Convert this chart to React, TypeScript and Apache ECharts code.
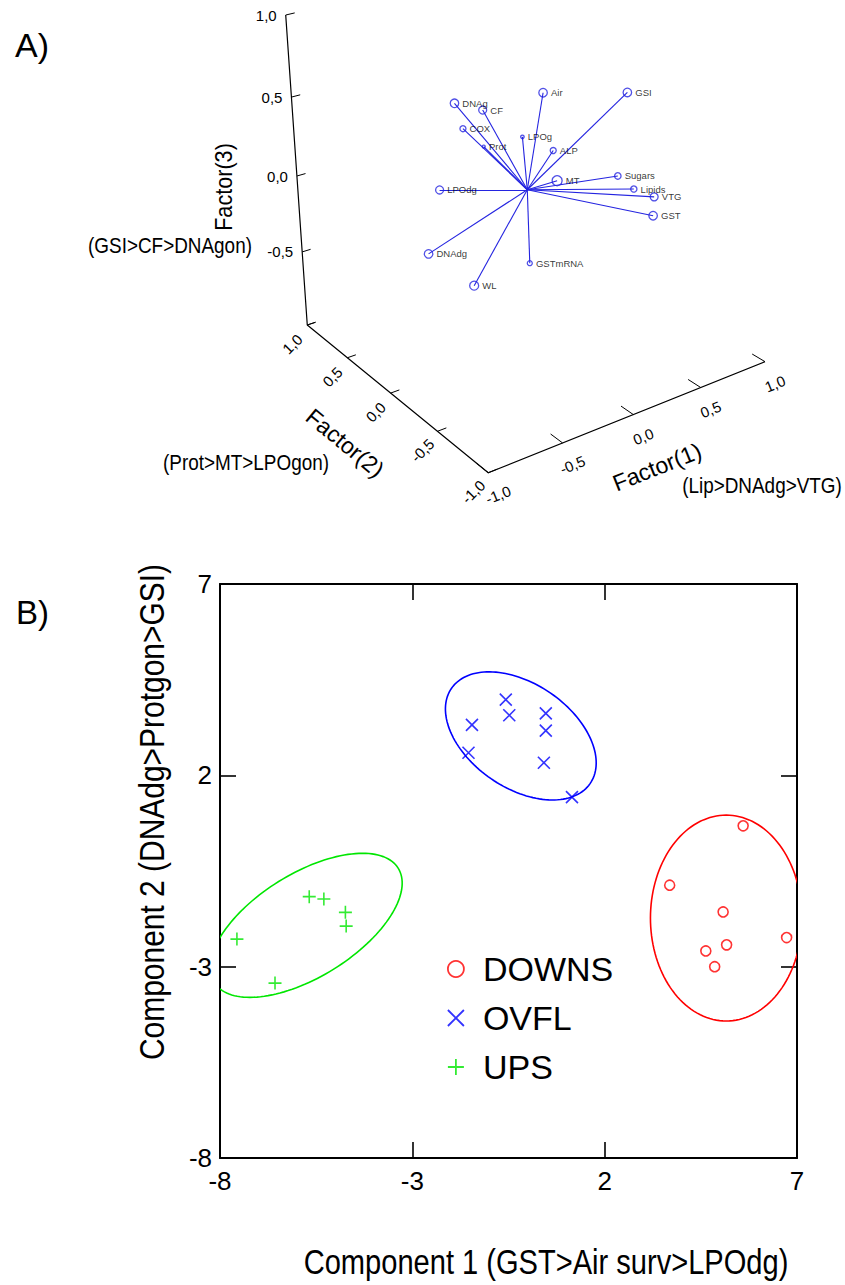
import React, { useEffect, useRef } from "react";
import * as echarts from "echarts";

const FONT = "'Liberation Sans', Arial, Helvetica, sans-serif";

// ---------------- Panel A : 3-D factor loadings ----------------
const variables = ["DNAg", "CF", "Air", "GSI", "COX", "Prot", "LPOg", "ALP", "MT", "Sugars", "Lipids", "VTG", "GST", "LPOdg", "DNAdg", "GSTmRNA", "WL"];
const factor1 = [-0.69, -0.44, -0.1, 0.5, -0.31, 0.24, 0.47, 0.34, -0.23, 0.76, 0.93, 0.8, 0.71, -0.74, -0.89, 0.3, -0.66];
const factor2 = [-0.3, -0.2, -0.3, -0.3, 0.2, 0.8, 0.7, 0.2, -0.6, 0.1, 0.15, -0.2, -0.3, -0.2, -0.3, 0.4, -0.4];
const factor3 = [0.79, 0.66, 0.71, 0.57, 0.39, -0.06, -0.02, 0.09, 0.33, -0.15, -0.3, -0.19, -0.25, 0.27, -0.03, -0.72, -0.25];
const cubeTicks = [-1, -0.5, 0, 0.5, 1];
const factorTitles = ["Factor(1)", "Factor(2)", "Factor(3)"];
const factorSubtitles = ["(Lip>DNAdg>VTG)", "(Prot>MT>LPOgon)", "(GSI>CF>DNAgon)"];

// ---------------- Panel B : component scores ----------------
const groups = ["DOWNS", "OVFL", "UPS"];
const downsX = [5.6, 3.69, 5.08, 5.17, 4.63, 4.86, 6.73];
const downsY = [0.68, -0.87, -1.57, -2.43, -2.59, -3.0, -2.24];
const ovflX = [-1.45, -0.57, -0.48, 0.47, 0.47, -1.54, 0.42, 1.15];
const ovflY = [3.32, 3.98, 3.57, 3.62, 3.17, 2.59, 2.33, 1.43];
const upsX = [-7.56, -5.68, -5.3, -4.74, -4.72, -6.57];
const upsY = [-2.28, -1.17, -1.23, -1.58, -1.94, -3.43];
const ellipseCx = [5.16, -0.18, -5.76];
const ellipseCy = [-1.73, 3.03, -1.92];
const ellipseA = [1.97, 2.19, 2.82];
const ellipseB = [2.69, 1.36, 1.35];
const ellipseAngle = [0, -34.7, 32];
const xTitle = "Component 1 (GST>Air surv>LPOdg)";
const yTitle = "Component 2 (DNAdg>Protgon>GSI)";

const COLORS = ["#ff0000", "#0000ff", "#00e600"];
const BLUE_A = "#2424e0";

// perspective camera of the 3-D box (layout of panel A)
const CAM = {
  o: [527.3, 189.75],
  e1: [162.05, -34.15],
  e2: [-58.9, -42.3],
  e3: [-22.95, -166.7],
  w: [0.0462, 0.078, -0.0399],
};
const proj = (f1: number, f2: number, f3: number): [number, number] => {
  const d = 1 + CAM.w[0] * f1 + CAM.w[1] * f2 + CAM.w[2] * f3;
  return [
    (CAM.o[0] + CAM.e1[0] * f1 + CAM.e2[0] * f2 + CAM.e3[0] * f3) / d,
    (CAM.o[1] + CAM.e1[1] * f1 + CAM.e2[1] * f2 + CAM.e3[1] * f3) / d,
  ];
};
const tickText = (v: number) => v.toFixed(1).replace(".", ",");

const txt = (text: string, x: number, y: number, size: number, opts: any = {}) => ({
  type: "text",
  x,
  y,
  rotation: opts.rotation || 0,
  scaleX: opts.scaleX || 1,
  silent: true,
  z: 10,
  style: {
    text,
    font: `${size}px ${FONT}`,
    fill: "#000",
    textAlign: opts.align || "center",
    align: opts.align || "center",
    textVerticalAlign: "middle",
    verticalAlign: "middle",
  },
});

const X_PATH = "path://M0,0L10,10M10,0L0,10";
const PLUS_PATH = "path://M5,0L5,10M0,5L10,5";

export default function App() {
  const ref = useRef<HTMLDivElement>(null);
  useEffect(() => {
    if (!ref.current) return;
    const chart = echarts.init(ref.current, undefined, { renderer: "svg" });

    const origin = proj(0, 0, 0);
    const loadingLines = variables.map((n, i) => ({ coords: [origin, proj(factor1[i], factor2[i], factor3[i])] }));
    const loadingPts = variables.map((n, i) => ({
      name: n,
      value: proj(factor1[i], factor2[i], factor3[i]),
      symbolSize: 7 - 5 * factor2[i],
    }));
    const frame = [proj(-1, 1, 1), proj(-1, 1, -1), proj(-1, -1, -1), proj(1, -1, -1)];
    const tickSegs: any[] = [];
    cubeTicks.forEach((v) => {
      tickSegs.push({ coords: [proj(-1, 1, v), proj(-0.94, 1, v)] });
      tickSegs.push({ coords: [proj(-1, v, -1), proj(-0.94, v, -1)] });
      tickSegs.push({ coords: [proj(v, -1, -1), proj(v, -0.89, -1)] });
    });

    const axisCommon = {
      axisLine: { show: true, onZero: false, lineStyle: { color: "#000", width: 2 } },
      axisTick: { show: true, inside: true, length: 16, lineStyle: { color: "#000", width: 1.6 } },
      splitLine: { show: false },
    };
    const labelStyle = { color: "#000", fontSize: 26, fontFamily: FONT, showMinLabel: true, showMaxLabel: true };

    const scoreSeries = [
      { name: "DOWNS", xs: downsX, ys: downsY, symbol: "circle", size: 10 },
      { name: "OVFL", xs: ovflX, ys: ovflY, symbol: X_PATH, size: 12 },
      { name: "UPS", xs: upsX, ys: upsY, symbol: PLUS_PATH, size: 13 },
    ].map((s, gi) => ({
      type: "scatter",
      name: s.name,
      xAxisIndex: 0,
      yAxisIndex: 0,
      symbol: s.symbol,
      symbolSize: s.size,
      symbolKeepAspect: true,
      silent: true,
      z: 5,
      data: s.xs.map((x, i) => [x, s.ys[i]]),
      itemStyle: { color: "rgba(255,255,255,0)", borderColor: COLORS[gi], borderWidth: 1.6 },
    }));

    chart.setOption({
      animation: false,
      backgroundColor: "#fff",
      grid: [
        { left: 220, top: 584, width: 577, height: 574 },
        { left: 0, top: 0, width: 845, height: 500 },
      ],
      xAxis: [
        { gridIndex: 0, type: "value", min: -8, max: 7, interval: 5, position: "bottom", ...axisCommon, axisLabel: { ...labelStyle, margin: 10 } },
        { gridIndex: 1, type: "value", min: 0, max: 845, show: false },
        { gridIndex: 0, type: "value", min: -8, max: 7, interval: 5, position: "top", ...axisCommon, axisLabel: { show: false } },
      ],
      yAxis: [
        { gridIndex: 0, type: "value", min: -8, max: 7, interval: 5, position: "left", ...axisCommon, axisLabel: { ...labelStyle, margin: 8 } },
        { gridIndex: 1, type: "value", min: 0, max: 500, inverse: true, show: false },
        { gridIndex: 0, type: "value", min: -8, max: 7, interval: 5, position: "right", ...axisCommon, axisLabel: { show: false } },
      ],
      legend: {
        show: true,
        orient: "vertical",
        left: 447,
        top: 952,
        padding: 0,
        itemGap: 15,
        itemWidth: 44,
        itemHeight: 16,
        symbolKeepAspect: true,
        selectedMode: false,
        data: groups,
        itemStyle: { borderWidth: 1.8 },
        textStyle: { fontSize: 34, color: "#000", fontFamily: FONT },
      },
      series: [
        {
          type: "custom",
          name: "ellipses",
          xAxisIndex: 0,
          yAxisIndex: 0,
          clip: true,
          silent: true,
          z: 3,
          data: groups.map((g, i) => [ellipseCx[i], ellipseCy[i], ellipseA[i], ellipseB[i], ellipseAngle[i]]),
          encode: { x: 0, y: 1 },
          renderItem: (params: any, api: any) => {
            const cx = api.value(0), cy = api.value(1), a = api.value(2), b = api.value(3);
            const th = (api.value(4) * Math.PI) / 180;
            const pts: number[][] = [];
            for (let k = 0; k <= 144; k++) {
              const t = (k / 144) * Math.PI * 2;
              const dx = a * Math.cos(t), dy = b * Math.sin(t);
              pts.push(api.coord([cx + dx * Math.cos(th) - dy * Math.sin(th), cy + dx * Math.sin(th) + dy * Math.cos(th)]));
            }
            return {
              type: "polyline",
              shape: { points: pts },
              style: { stroke: COLORS[params.dataIndex], fill: "none", lineWidth: 1.6 },
            };
          },
        },
        ...scoreSeries,
        {
          type: "line",
          xAxisIndex: 1,
          yAxisIndex: 1,
          data: frame,
          symbol: "none",
          silent: true,
          lineStyle: { color: "#000", width: 1.2 },
        },
        {
          type: "lines",
          coordinateSystem: "cartesian2d",
          xAxisIndex: 1,
          yAxisIndex: 1,
          silent: true,
          data: tickSegs,
          lineStyle: { color: "#000", width: 1, opacity: 1 },
        },
        {
          type: "lines",
          coordinateSystem: "cartesian2d",
          xAxisIndex: 1,
          yAxisIndex: 1,
          silent: true,
          data: loadingLines,
          lineStyle: { color: BLUE_A, width: 1.1, opacity: 1 },
        },
        {
          type: "scatter",
          xAxisIndex: 1,
          yAxisIndex: 1,
          silent: true,
          symbol: "circle",
          data: loadingPts,
          itemStyle: { color: "rgba(255,255,255,0)", borderColor: BLUE_A, borderWidth: 1.3 },
          label: { show: true, formatter: "{b}", position: "right", distance: 3, fontSize: 9.5, color: "#000", fontFamily: FONT },
        },
      ],
    });

    const px = (p: [number, number]) => chart.convertToPixel({ gridIndex: 1 }, p) as number[];
    const g: any[] = [];
    cubeTicks.filter((v) => v > -1).forEach((v) => {
      const [x, y] = px(proj(-1, 1, v));
      g.push(txt(tickText(v), x - 9, y, 15, { align: "right" }));
    });
    cubeTicks.forEach((v) => {
      const [x, y] = px(proj(-1, v, -1));
      g.push(txt(tickText(v), x - 15, y + 19, 15, { rotation: Math.PI / 4 }));
    });
    cubeTicks.forEach((v) => {
      const [x, y] = px(proj(v, -1, -1));
      g.push(txt(tickText(v), x + 10, y + 22, 15, { rotation: (22 * Math.PI) / 180 }));
    });
    g.push(txt("A)", 15, 45, 34, { align: "left" }));
    g.push(txt("B)", 16, 612, 33, { align: "left" }));
    g.push(txt(factorTitles[2], 224, 187, 23, { rotation: Math.PI / 2, scaleX: 0.94 }));
    g.push(txt(factorSubtitles[2], 170, 245, 22, { scaleX: 0.86 }));
    g.push(txt(factorTitles[1], 345, 443, 23, { rotation: -0.69 }));
    g.push(txt(factorSubtitles[1], 246, 462, 22, { scaleX: 0.86 }));
    g.push(txt(factorTitles[0], 657, 467, 23, { rotation: 0.38 }));
    g.push(txt(factorSubtitles[0], 762, 485, 22, { scaleX: 0.86 }));
    g.push(txt(yTitle, 152, 812, 35, { rotation: Math.PI / 2, scaleX: 0.856 }));
    g.push(txt(xTitle, 546, 1262, 35, { scaleX: 0.831 }));
    chart.setOption({ graphic: { elements: g } });

    return () => chart.dispose();
  }, []);
  return (
    <div
      ref={ref}
      style={{ position: "absolute", left: 0, top: 0, width: 845, height: 1285, background: "#fff" }}
    />
  );
}
